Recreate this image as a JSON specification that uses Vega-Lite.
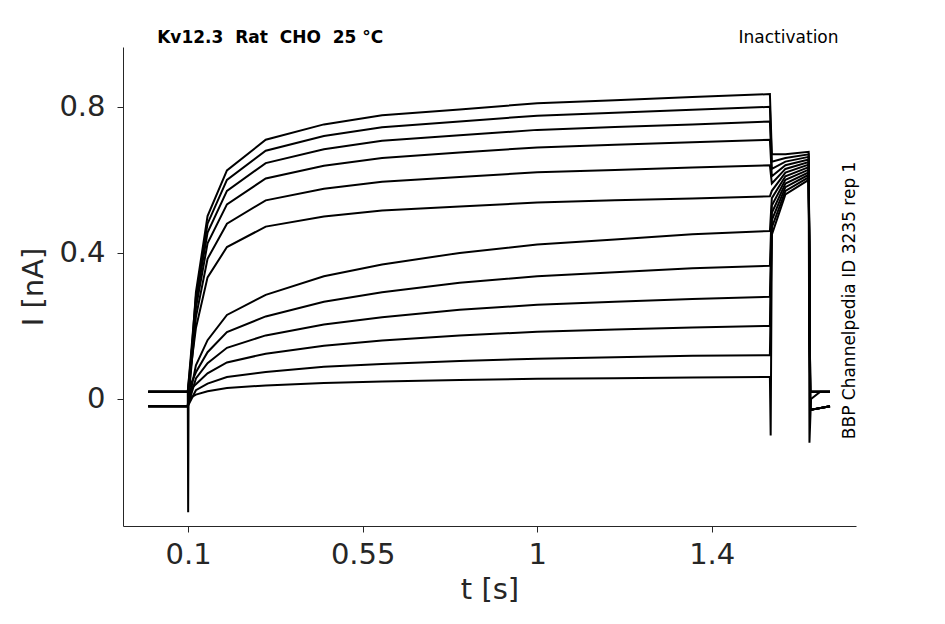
{
  "$schema": "https://vega.github.io/schema/vega-lite/v6.json",
  "width": 733,
  "height": 479,
  "autosize": "none",
  "padding": {"left": 123, "top": 47, "right": 89, "bottom": 98},
  "background": "white",
  "config": {"font": "DejaVu Sans", "view": {"stroke": null}},
  "layer": [
    {
      "data": {"values": [
        {"k":0,"t":-0.003,"i":0.02},{"k":0,"t":0.099,"i":0.02},{"k":0,"t":0.1,"i":-0.31},{"k":0,"t":0.101,"i":0.0},{"k":0,"t":0.12,"i":0.012},{"k":0,"t":0.15,"i":0.021},{"k":0,"t":0.2,"i":0.03},{"k":0,"t":0.3,"i":0.037},{"k":0,"t":0.45,"i":0.044},{"k":0,"t":0.6,"i":0.048},{"k":0,"t":0.8,"i":0.052},{"k":0,"t":1.0,"i":0.055},{"k":0,"t":1.2,"i":0.057},{"k":0,"t":1.4,"i":0.059},{"k":0,"t":1.6,"i":0.06},{"k":0,"t":1.602,"i":-0.1},{"k":0,"t":1.605,"i":0.45},{"k":0,"t":1.64,"i":0.56},{"k":0,"t":1.7,"i":0.6},{"k":0,"t":1.702,"i":-0.12},{"k":0,"t":1.706,"i":0.0},{"k":0,"t":1.73,"i":0.02},{"k":0,"t":1.755,"i":0.02},

        {"k":1,"t":-0.003,"i":-0.02},{"k":1,"t":0.099,"i":-0.02},{"k":1,"t":0.12,"i":0.024},{"k":1,"t":0.15,"i":0.042},{"k":1,"t":0.2,"i":0.06},{"k":1,"t":0.3,"i":0.074},{"k":1,"t":0.45,"i":0.088},{"k":1,"t":0.6,"i":0.096},{"k":1,"t":0.8,"i":0.104},{"k":1,"t":1.0,"i":0.11},{"k":1,"t":1.2,"i":0.114},{"k":1,"t":1.4,"i":0.118},{"k":1,"t":1.6,"i":0.12},{"k":1,"t":1.605,"i":0.47},{"k":1,"t":1.64,"i":0.57},{"k":1,"t":1.7,"i":0.607},{"k":1,"t":1.704,"i":-0.03},{"k":1,"t":1.755,"i":-0.02},

        {"k":2,"t":-0.003,"i":0.02},{"k":2,"t":0.099,"i":0.02},{"k":2,"t":0.12,"i":0.04},{"k":2,"t":0.15,"i":0.07},{"k":2,"t":0.2,"i":0.1},{"k":2,"t":0.3,"i":0.124},{"k":2,"t":0.45,"i":0.146},{"k":2,"t":0.6,"i":0.16},{"k":2,"t":0.8,"i":0.174},{"k":2,"t":1.0,"i":0.184},{"k":2,"t":1.2,"i":0.19},{"k":2,"t":1.4,"i":0.196},{"k":2,"t":1.6,"i":0.2},{"k":2,"t":1.605,"i":0.49},{"k":2,"t":1.64,"i":0.58},{"k":2,"t":1.7,"i":0.614},{"k":2,"t":1.704,"i":0.02},{"k":2,"t":1.755,"i":0.02},

        {"k":3,"t":-0.003,"i":-0.02},{"k":3,"t":0.099,"i":-0.02},{"k":3,"t":0.12,"i":0.056},{"k":3,"t":0.15,"i":0.098},{"k":3,"t":0.2,"i":0.14},{"k":3,"t":0.3,"i":0.174},{"k":3,"t":0.45,"i":0.204},{"k":3,"t":0.6,"i":0.224},{"k":3,"t":0.8,"i":0.244},{"k":3,"t":1.0,"i":0.258},{"k":3,"t":1.2,"i":0.266},{"k":3,"t":1.4,"i":0.274},{"k":3,"t":1.6,"i":0.28},{"k":3,"t":1.605,"i":0.51},{"k":3,"t":1.64,"i":0.59},{"k":3,"t":1.7,"i":0.621},{"k":3,"t":1.704,"i":-0.03},{"k":3,"t":1.755,"i":-0.02},

        {"k":4,"t":-0.003,"i":0.02},{"k":4,"t":0.099,"i":0.02},{"k":4,"t":0.12,"i":0.073},{"k":4,"t":0.15,"i":0.128},{"k":4,"t":0.2,"i":0.183},{"k":4,"t":0.3,"i":0.226},{"k":4,"t":0.45,"i":0.266},{"k":4,"t":0.6,"i":0.292},{"k":4,"t":0.8,"i":0.318},{"k":4,"t":1.0,"i":0.336},{"k":4,"t":1.2,"i":0.347},{"k":4,"t":1.4,"i":0.358},{"k":4,"t":1.6,"i":0.365},{"k":4,"t":1.605,"i":0.53},{"k":4,"t":1.64,"i":0.6},{"k":4,"t":1.7,"i":0.628},{"k":4,"t":1.704,"i":0.02},{"k":4,"t":1.755,"i":0.02},

        {"k":5,"t":-0.003,"i":-0.02},{"k":5,"t":0.099,"i":-0.02},{"k":5,"t":0.12,"i":0.092},{"k":5,"t":0.15,"i":0.161},{"k":5,"t":0.2,"i":0.23},{"k":5,"t":0.3,"i":0.285},{"k":5,"t":0.45,"i":0.336},{"k":5,"t":0.6,"i":0.368},{"k":5,"t":0.8,"i":0.4},{"k":5,"t":1.0,"i":0.423},{"k":5,"t":1.2,"i":0.437},{"k":5,"t":1.4,"i":0.451},{"k":5,"t":1.6,"i":0.46},{"k":5,"t":1.605,"i":0.55},{"k":5,"t":1.64,"i":0.61},{"k":5,"t":1.7,"i":0.635},{"k":5,"t":1.704,"i":-0.03},{"k":5,"t":1.755,"i":-0.02},

        {"k":6,"t":-0.003,"i":0.02},{"k":6,"t":0.099,"i":0.02},{"k":6,"t":0.12,"i":0.194},{"k":6,"t":0.15,"i":0.333},{"k":6,"t":0.2,"i":0.416},{"k":6,"t":0.3,"i":0.472},{"k":6,"t":0.45,"i":0.5},{"k":6,"t":0.6,"i":0.516},{"k":6,"t":0.8,"i":0.527},{"k":6,"t":1.0,"i":0.538},{"k":6,"t":1.2,"i":0.544},{"k":6,"t":1.4,"i":0.549},{"k":6,"t":1.6,"i":0.555},{"k":6,"t":1.605,"i":0.57},{"k":6,"t":1.64,"i":0.62},{"k":6,"t":1.7,"i":0.642},{"k":6,"t":1.704,"i":0.02},{"k":6,"t":1.755,"i":0.02},

        {"k":7,"t":-0.003,"i":-0.02},{"k":7,"t":0.099,"i":-0.02},{"k":7,"t":0.12,"i":0.224},{"k":7,"t":0.15,"i":0.384},{"k":7,"t":0.2,"i":0.48},{"k":7,"t":0.3,"i":0.544},{"k":7,"t":0.45,"i":0.576},{"k":7,"t":0.6,"i":0.595},{"k":7,"t":0.8,"i":0.608},{"k":7,"t":1.0,"i":0.621},{"k":7,"t":1.2,"i":0.627},{"k":7,"t":1.4,"i":0.634},{"k":7,"t":1.6,"i":0.64},{"k":7,"t":1.605,"i":0.59},{"k":7,"t":1.64,"i":0.63},{"k":7,"t":1.7,"i":0.649},{"k":7,"t":1.704,"i":-0.03},{"k":7,"t":1.755,"i":-0.02},

        {"k":8,"t":-0.003,"i":0.02},{"k":8,"t":0.099,"i":0.02},{"k":8,"t":0.12,"i":0.249},{"k":8,"t":0.15,"i":0.426},{"k":8,"t":0.2,"i":0.533},{"k":8,"t":0.3,"i":0.604},{"k":8,"t":0.45,"i":0.639},{"k":8,"t":0.6,"i":0.66},{"k":8,"t":0.8,"i":0.675},{"k":8,"t":1.0,"i":0.689},{"k":8,"t":1.2,"i":0.696},{"k":8,"t":1.4,"i":0.703},{"k":8,"t":1.6,"i":0.71},{"k":8,"t":1.605,"i":0.61},{"k":8,"t":1.64,"i":0.64},{"k":8,"t":1.7,"i":0.656},{"k":8,"t":1.704,"i":0.02},{"k":8,"t":1.755,"i":0.02},

        {"k":9,"t":-0.003,"i":-0.02},{"k":9,"t":0.099,"i":-0.02},{"k":9,"t":0.12,"i":0.266},{"k":9,"t":0.15,"i":0.456},{"k":9,"t":0.2,"i":0.57},{"k":9,"t":0.3,"i":0.646},{"k":9,"t":0.45,"i":0.684},{"k":9,"t":0.6,"i":0.707},{"k":9,"t":0.8,"i":0.722},{"k":9,"t":1.0,"i":0.737},{"k":9,"t":1.2,"i":0.745},{"k":9,"t":1.4,"i":0.752},{"k":9,"t":1.6,"i":0.76},{"k":9,"t":1.605,"i":0.63},{"k":9,"t":1.64,"i":0.65},{"k":9,"t":1.7,"i":0.663},{"k":9,"t":1.704,"i":-0.03},{"k":9,"t":1.755,"i":-0.02},

        {"k":10,"t":-0.003,"i":0.02},{"k":10,"t":0.099,"i":0.02},{"k":10,"t":0.12,"i":0.28},{"k":10,"t":0.15,"i":0.48},{"k":10,"t":0.2,"i":0.6},{"k":10,"t":0.3,"i":0.68},{"k":10,"t":0.45,"i":0.72},{"k":10,"t":0.6,"i":0.744},{"k":10,"t":0.8,"i":0.76},{"k":10,"t":1.0,"i":0.776},{"k":10,"t":1.2,"i":0.784},{"k":10,"t":1.4,"i":0.792},{"k":10,"t":1.6,"i":0.8},{"k":10,"t":1.605,"i":0.65},{"k":10,"t":1.64,"i":0.66},{"k":10,"t":1.7,"i":0.67},{"k":10,"t":1.704,"i":0.02},{"k":10,"t":1.755,"i":0.02},

        {"k":11,"t":-0.003,"i":-0.02},{"k":11,"t":0.099,"i":-0.02},{"k":11,"t":0.12,"i":0.292},{"k":11,"t":0.15,"i":0.501},{"k":11,"t":0.2,"i":0.626},{"k":11,"t":0.3,"i":0.71},{"k":11,"t":0.45,"i":0.752},{"k":11,"t":0.6,"i":0.777},{"k":11,"t":0.8,"i":0.793},{"k":11,"t":1.0,"i":0.81},{"k":11,"t":1.2,"i":0.818},{"k":11,"t":1.4,"i":0.827},{"k":11,"t":1.6,"i":0.835},{"k":11,"t":1.605,"i":0.67},{"k":11,"t":1.64,"i":0.67},{"k":11,"t":1.7,"i":0.677},{"k":11,"t":1.704,"i":-0.03},{"k":11,"t":1.755,"i":-0.02}
      ]},
      "mark": {"type": "line", "color": "black", "strokeWidth": 2, "clip": true},
      "encoding": {
        "x": {"field": "t", "type": "quantitative",
          "scale": {"domain": [-0.068, 1.822], "nice": false, "zero": false},
          "axis": {"values": [0.1, 0.55, 1, 1.45], "format": "~g", "title": "t [s]", "grid": false,
            "labelFontSize": 29, "titleFontSize": 29, "titleFontWeight": "normal",
            "labelColor": "#262626", "titleColor": "#262626", "domainColor": "#262626",
            "tickColor": "#262626", "tickSize": 6, "labelPadding": 8, "titlePadding": 6}},
        "y": {"field": "i", "type": "quantitative",
          "scale": {"domain": [-0.348, 0.964], "nice": false, "zero": false},
          "axis": {"values": [0, 0.4, 0.8], "format": "~g", "title": "I [nA]", "grid": false,
            "labelFontSize": 29, "titleFontSize": 29, "titleFontWeight": "normal",
            "labelColor": "#262626", "titleColor": "#262626", "domainColor": "#262626",
            "tickColor": "#262626", "tickSize": 6, "labelPadding": 12, "titlePadding": 10}},
        "detail": {"field": "k", "type": "nominal"},
        "order": {"field": "t", "type": "quantitative"}
      }
    },
    {
      "data": {"values": [{"label": "Kv12.3\u00a0\u00a0Rat\u00a0\u00a0CHO\u00a0\u00a025 °C"}]},
      "mark": {"type": "text", "fontSize": 17, "fontWeight": "bold", "align": "left", "baseline": "middle", "clip": false},
      "encoding": {"x": {"datum": 0.02, "type": "quantitative"}, "y": {"datum": 0.99, "type": "quantitative"}, "text": {"field": "label"}}
    },
    {
      "data": {"values": [{"label": "Inactivation"}]},
      "mark": {"type": "text", "fontSize": 17, "align": "right", "baseline": "middle", "clip": false},
      "encoding": {"x": {"datum": 1.777, "type": "quantitative"}, "y": {"datum": 0.99, "type": "quantitative"}, "text": {"field": "label"}}
    },
    {
      "data": {"values": [{"label": "BBP Channelpedia ID 3235 rep 1"}]},
      "mark": {"type": "text", "fontSize": 17, "angle": 270, "align": "center", "baseline": "middle", "clip": false},
      "encoding": {"x": {"datum": 1.806, "type": "quantitative"}, "y": {"datum": 0.27, "type": "quantitative"}, "text": {"field": "label"}}
    }
  ]
}
